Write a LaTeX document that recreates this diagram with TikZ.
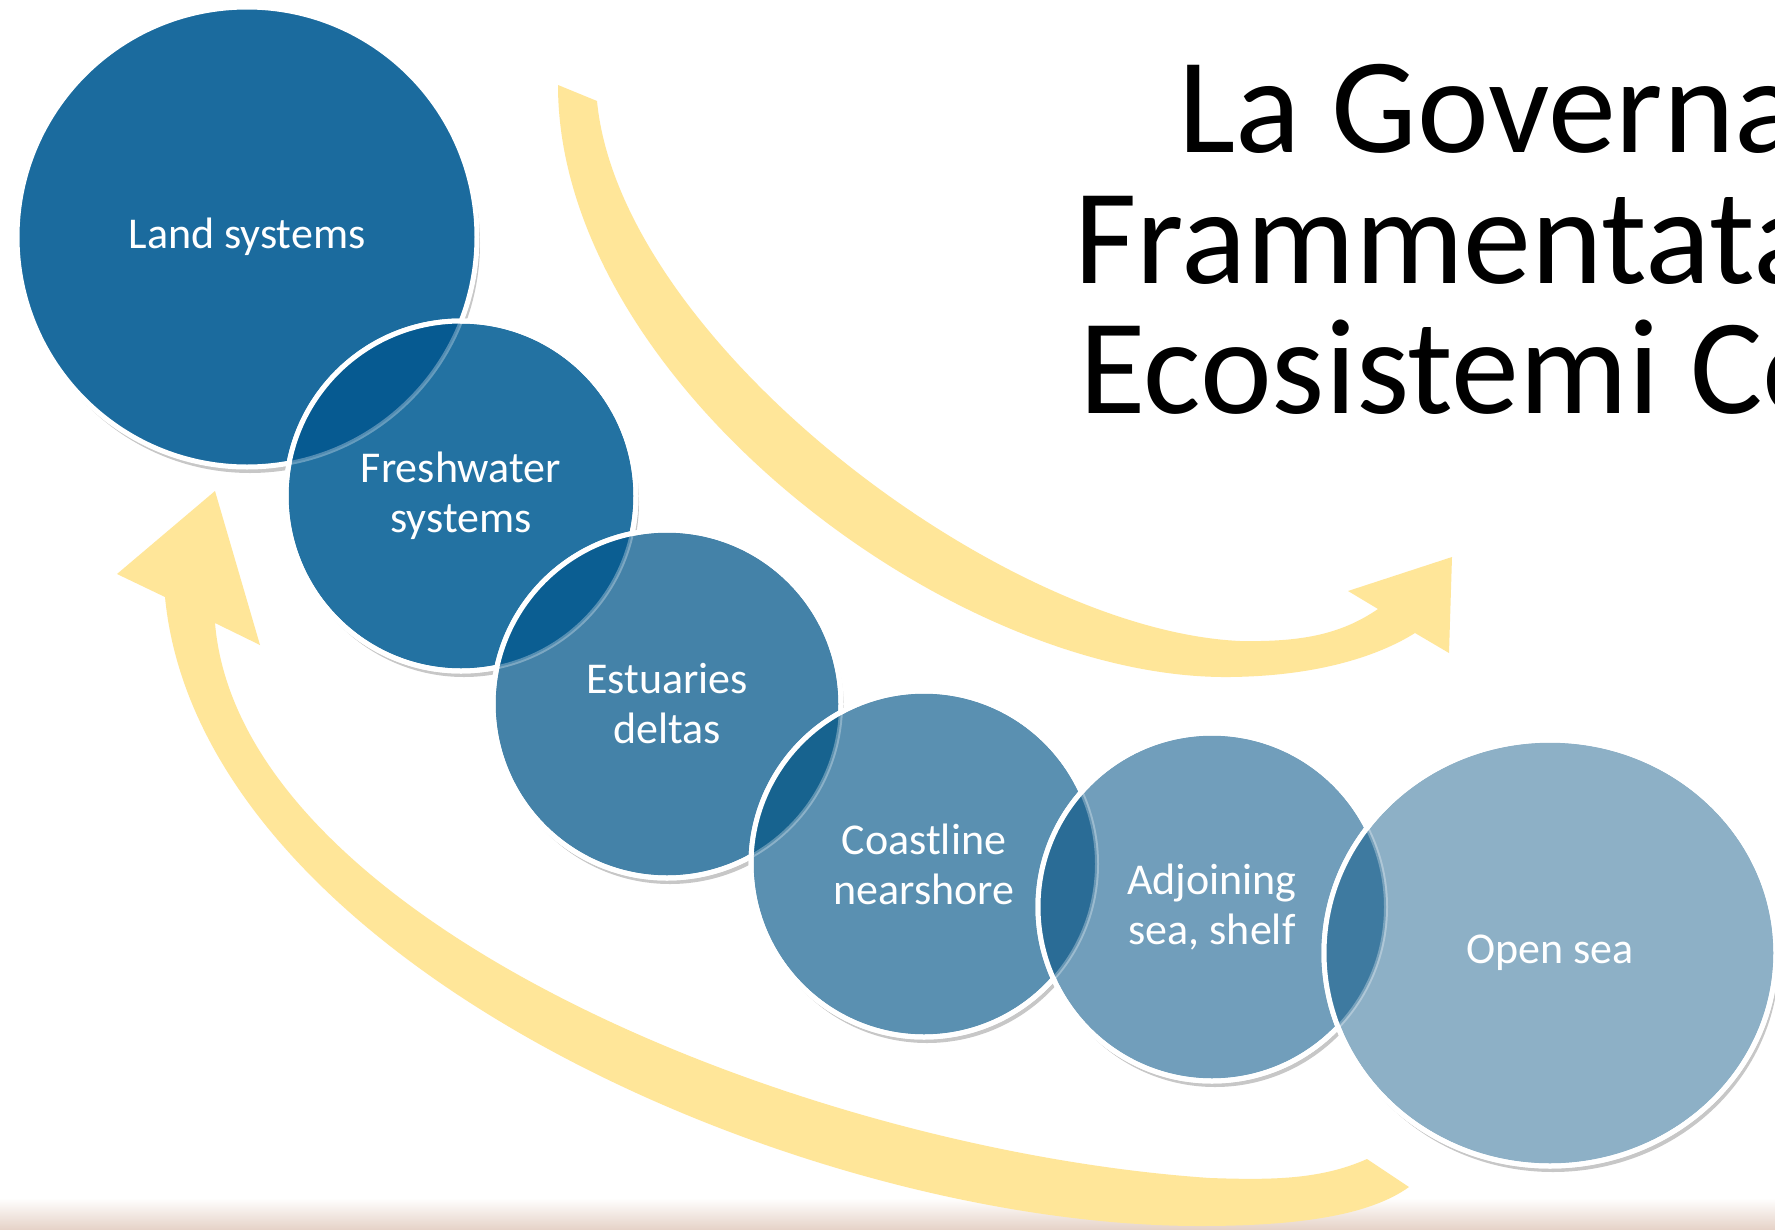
\documentclass[tikz,border=0pt]{standalone}
\usepackage{fontspec}
\setmainfont{Carlito}
\usetikzlibrary{shadows,shapes.geometric}

\definecolor{flowyellow}{HTML}{FFE699}
\definecolor{stripbeige}{HTML}{E6D3C8}
\definecolor{landblue}{HTML}{1B6B9E}
\definecolor{freshblue}{HTML}{2372A2}
\definecolor{estblue}{HTML}{4482A8}
\definecolor{coastblue}{HTML}{5A90B1}
\definecolor{shelfblue}{HTML}{719EBB}
\definecolor{seablue}{HTML}{8DB0C6}
\definecolor{ovlA}{HTML}{065A91}
\definecolor{ovlB}{HTML}{0B5E92}
\definecolor{ovlC}{HTML}{17638F}
\definecolor{ovlD}{HTML}{2A6C96}
\definecolor{ovlE}{HTML}{3E7AA0}

\tikzset{
  zone/.style={circle, draw=white, line width=5pt, inner sep=0pt, text=white,
    align=center, font=\fontsize{44}{50}\selectfont,
    drop shadow={shadow xshift=3pt, shadow yshift=-6pt, opacity=0.22, fill=black}},
  rim/.style={draw=white, line width=5pt},
  faintrim/.style={draw=white, draw opacity=0.3, line width=4pt},
  headline/.style={anchor=base west, inner sep=0pt, font=\fontsize{136}{131}\selectfont}
}

\begin{document}
\begin{tikzpicture}[x=1pt,y=-1pt]
\clip (0,0) rectangle (1775,1229);
\fill[white] (0,0) rectangle (1775,1229);
% strip at the bottom
\shade[top color=white, bottom color=stripbeige] (0,1198) rectangle (1775,1229);

% upper arrow
\fill[flowyellow] (558,85) .. controls (558,380) and (950,680) .. (1230,677)
  .. controls (1320,676) and (1380,655) .. (1415,633) -- (1449,653) -- (1452,557)
  -- (1348,591) -- (1378,609) .. controls (1340,635) and (1300,642) .. (1240,641)
  .. controls (1000,630) and (620,340) .. (597,101) -- cycle;
% lower arrow
\fill[flowyellow] (1409,1187) .. controls (1370,1215) and (1300,1226) .. (1200,1226)
  .. controls (800,1226) and (200,960) .. (165,597) -- (117,574) -- (215,491)
  -- (260,645) -- (215,623) .. controls (240,920) and (800,1150) .. (1210,1178)
  .. controls (1270,1180) and (1320,1180) .. (1367,1159) -- cycle;

% zones
\node[zone, minimum size=460, fill=landblue] (land) at (247,237) {Land systems};

\node[zone, minimum size=350, fill=freshblue] (fresh) at (461,496) {Freshwater\\systems};
\begin{scope}
  \clip (land.center) circle (230);
  \fill[ovlA] (fresh.center) circle (175);
\end{scope}
\begin{scope}
  \clip (fresh.center) circle (175);
  \draw[faintrim] (land.center) circle (230);
\end{scope}
\draw[rim] (fresh.center) circle (175);

\node[zone, minimum size=348, fill=estblue] (est) at (667,704) {Estuaries\\deltas};
\begin{scope}
  \clip (fresh.center) circle (175);
  \fill[ovlB] (est.center) circle (174);
\end{scope}
\begin{scope}
  \clip (est.center) circle (174);
  \draw[faintrim] (fresh.center) circle (175);
\end{scope}
\draw[rim] (est.center) circle (174);

\node[zone, minimum size=346, fill=coastblue] (coast) at (924,864) {Coastline\\nearshore};
\begin{scope}
  \clip (est.center) circle (174);
  \fill[ovlC] (coast.center) circle (173);
\end{scope}
\begin{scope}
  \clip (coast.center) circle (173);
  \draw[faintrim] (est.center) circle (174);
\end{scope}
\draw[rim] (coast.center) circle (173);

\node[zone, minimum size=348, fill=shelfblue] (shelf) at (1212,907) {Adjoining\\sea, shelf};
\begin{scope}
  \clip (coast.center) circle (173);
  \fill[ovlD] (shelf.center) circle (174);
\end{scope}
\begin{scope}
  \clip (shelf.center) circle (174);
  \draw[faintrim] (coast.center) circle (173);
\end{scope}
\draw[rim] (shelf.center) circle (174);

% open sea is a little wider than tall
\node[zone, ellipse, minimum width=452, minimum height=426, fill=seablue] (sea) at (1550,953) {Open sea};
\begin{scope}
  \clip (shelf.center) circle (174);
  \fill[ovlE] (sea.center) ellipse (226 and 213);
\end{scope}
\begin{scope}
  \clip (sea.center) ellipse (226 and 213);
  \draw[faintrim] (shelf.center) circle (174);
\end{scope}
\draw[rim] (sea.center) ellipse (226 and 213);

% title, cut at the right edge
\node[headline] (title1) at (1178,152) {La Governa};
\node[headline] (title2) at (1074,283) {Frammentata};
\node[headline] (title3) at (1079,413) {Ecosistemi Co};
\end{tikzpicture}
\end{document}
